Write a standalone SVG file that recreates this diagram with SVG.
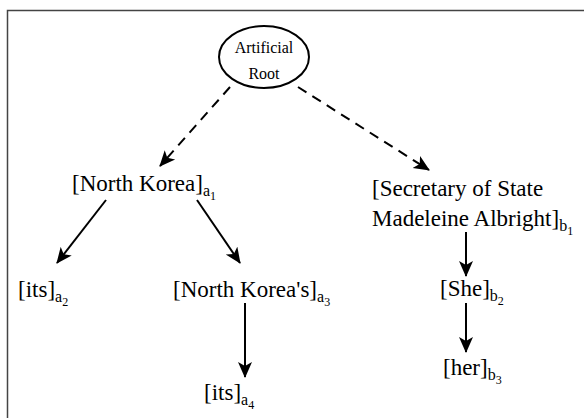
<svg xmlns="http://www.w3.org/2000/svg" width="584" height="418" viewBox="0 0 584 418">
<defs>
<marker id="ah" markerUnits="userSpaceOnUse" markerWidth="18" markerHeight="16" refX="15" refY="7" orient="auto" viewBox="0 0 18 14">
<path d="M0,0 L16,7 L0,14 L4,7 z" fill="#000"/>
</marker>
</defs>
<style>
.n{font-size:23px}
.s{font-size:16px}
.ss{font-size:12px}
.r{font-size:16px}
.e{stroke:#000;stroke-width:2;fill:none;marker-end:url(#ah)}
.d{stroke-dasharray:10 7}
</style>
<rect x="7.5" y="10.5" width="590" height="420" fill="none" stroke="#444" stroke-width="1.5"/>
<g id="connectors">
<line class="e d" x1="230" y1="87" x2="160" y2="166"/>
<line class="e d" x1="298" y1="87" x2="429" y2="170"/>
<line class="e" x1="106" y1="200" x2="57" y2="263"/>
<line class="e" x1="197" y1="200" x2="240" y2="263"/>
<line class="e" x1="245" y1="303" x2="245" y2="377"/>
<line class="e" x1="466" y1="232" x2="466" y2="276"/>
<line class="e" x1="466" y1="303" x2="466" y2="352"/>
</g>
<g font-family="'Liberation Serif', 'DejaVu Serif', serif" fill="#000">
<g id="root">
<ellipse cx="264" cy="57" rx="45" ry="31" fill="#fff" stroke="#000" stroke-width="2"/>
<text class="r" x="264" y="53" text-anchor="middle">Artificial</text>
<text class="r" x="264" y="79" text-anchor="middle">Root</text>
</g>
<g id="a1"><text class="n" x="72" y="191">[North Korea]<tspan class="s" dy="5">a</tspan><tspan class="ss" dy="4">1</tspan></text></g>
<g id="a2"><text class="n" x="18" y="297">[its]<tspan class="s" dy="5">a</tspan><tspan class="ss" dy="4">2</tspan></text></g>
<g id="a3"><text class="n" x="173" y="297">[North Korea's]<tspan class="s" dy="5">a</tspan><tspan class="ss" dy="4">3</tspan></text></g>
<g id="a4"><text class="n" x="204" y="400">[its]<tspan class="s" dy="5">a</tspan><tspan class="ss" dy="4">4</tspan></text></g>
<g id="b1"><text class="n" x="372" y="196">[Secretary of State</text><text class="n" x="372" y="226">Madeleine Albright]<tspan class="s" dy="5">b</tspan><tspan class="ss" dy="4">1</tspan></text></g>
<g id="b2"><text class="n" x="440" y="296">[She]<tspan class="s" dy="5">b</tspan><tspan class="ss" dy="4">2</tspan></text></g>
<g id="b3"><text class="n" x="443" y="375">[her]<tspan class="s" dy="5">b</tspan><tspan class="ss" dy="4">3</tspan></text></g>
</g>
</svg>
